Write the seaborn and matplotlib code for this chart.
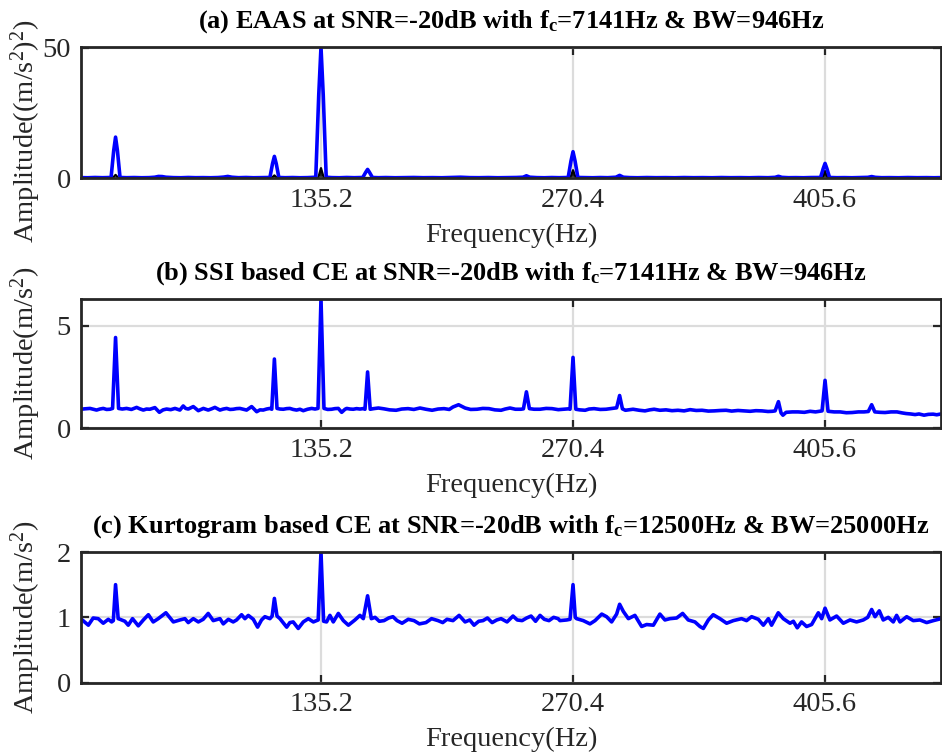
import matplotlib
matplotlib.use("Agg")
import matplotlib.pyplot as plt
import seaborn as sns

# ---------------------------------------------------------------------------
# Envelope spectra (frequency in Hz, amplitude)
# ---------------------------------------------------------------------------
TICK_FREQS = [135.2, 270.4, 405.6]
TICK_LABELS = ["135.2", "270.4", "405.6"]
FREQ_RANGE = (6.3, 467.8)

# (a) EAAS envelope spectrum
eaas_freq = [6.3, 10, 14, 18, 21, 22.6, 24.0, 25.0, 26.0, 27.4, 31, 35, 39, 43, 46, 48, 50, 52,
             56, 60, 64, 68, 72, 76, 80, 83, 85.2, 87.4, 91, 95, 99, 103, 107.8, 109.2, 110.2,
             111.2, 112.6, 116, 120, 124, 128, 132.4, 134.0, 135.2, 136.4, 138.0, 141, 145, 149,
             153, 157.6, 159.2, 160.2, 161.2, 162.8, 166, 170, 175, 180, 185, 190, 195, 200, 205,
             210, 215, 220, 225, 230, 235, 240, 243.6, 245.4, 247.2, 251, 255, 259, 263, 267.8,
             269.3, 270.4, 271.5, 273.0, 277, 281, 285, 289, 293.4, 295.4, 297.4, 301, 305, 310,
             315, 320, 325, 330, 335, 340, 345, 350, 355, 360, 365, 370, 375, 378.8, 380.6, 382.4,
             386, 390, 394, 398, 403.2, 404.6, 405.6, 406.6, 408.0, 412, 416, 420, 424, 428.6,
             430.6, 432.6, 436, 440, 445, 450, 455, 460, 464, 467.8]
eaas_amp = [0.15, 0.1, 0.2, 0.12, 0.15, 0.2, 10.5, 15.7, 10.5, 0.2, 0.12, 0.18, 0.1, 0.15, 0.3, 0.6,
            0.55, 0.3, 0.15, 0.1, 0.2, 0.12, 0.15, 0.1, 0.18, 0.35, 0.6, 0.3, 0.12, 0.2, 0.1, 0.15,
            0.2, 5.5, 8.3, 5.5, 0.2, 0.12, 0.18, 0.1, 0.15, 0.3, 32.0, 50.3, 32.0, 0.3, 0.15, 0.1,
            0.2, 0.12, 0.2, 2.2, 3.3, 2.2, 0.2, 0.12, 0.18, 0.1, 0.15, 0.2, 0.12, 0.15, 0.1, 0.18,
            0.3, 0.15, 0.12, 0.18, 0.1, 0.15, 0.2, 0.3, 0.85, 0.3, 0.15, 0.1, 0.18, 0.12, 0.2, 6.5,
            10.1, 6.5, 0.2, 0.15, 0.1, 0.18, 0.12, 0.3, 1.0, 0.3, 0.15, 0.1, 0.18, 0.12, 0.15, 0.1,
            0.18, 0.12, 0.15, 0.1, 0.18, 0.12, 0.15, 0.1, 0.18, 0.12, 0.25, 0.65, 0.25, 0.12, 0.15,
            0.1, 0.18, 0.2, 3.6, 5.6, 3.6, 0.2, 0.12, 0.15, 0.1, 0.18, 0.25, 0.55, 0.25, 0.12, 0.15,
            0.1, 0.18, 0.12, 0.15, 0.1, 0.15]

# (a) reference harmonic trace drawn underneath
ref_freq = [6.3, 23.5, 25.0, 26.5, 108.7, 110.2, 111.7, 133.7, 135.2, 136.7,
            268.9, 270.4, 271.9, 404.1, 405.6, 407.1, 467.8]
ref_amp = [0, 0, 1.2, 0, 0, 1.0, 0, 0, 3.8, 0, 0, 3.0, 0, 0, 2.4, 0, 0]

# (b) SSI based CE envelope spectrum
ssi_freq = [6.3, 8.5, 11.3, 13.0, 14.8, 16.6, 18.4, 20.2, 22.0, 23.4, 25.0, 26.6, 28.6, 30.9, 33.5,
            36.3, 38.0, 39.9, 41.6, 43.4, 46.1, 48.5, 50.5, 52.4, 54.6, 56.9, 59.5, 61.3, 62.6,
            64.0, 66.7, 69.4, 72.1, 74.7, 76.5, 78.3, 81.0, 82.8, 84.6, 86.4, 88.1, 89.9, 91.7,
            93.5, 95.3, 98.0, 100.7, 102.5, 104.2, 106.0, 107.8, 108.8, 110.2, 111.6, 113.2,
            115.0, 116.8, 118.5, 120.3, 122.1, 123.9, 125.7, 128.0, 130.2, 132.0, 133.6, 135.2,
            136.8, 138.8, 140.9, 142.7, 144.5, 146.3, 148.1, 149.0, 150.8, 152.5, 154.3, 156.1,
            157.8, 158.8, 160.2, 161.6, 163.5, 166.0, 169.0, 172.0, 175.5, 178.5, 181.9, 185.0,
            188.3, 191.5, 194.8, 198.0, 201.2, 204.0, 206.0, 209.0, 212.5, 215.5, 218.9, 222.0,
            225.3, 228.5, 231.8, 234.0, 236.6, 239.5, 242.4, 243.8, 245.4, 247.0, 249.5, 252.7,
            256.0, 259.1, 262.5, 265.6, 268.0, 268.8, 270.4, 271.9, 274.0, 276.9, 279.0, 281.7,
            285.0, 288.1, 290.5, 292.6, 293.8, 295.4, 296.9, 298.5, 302.6, 306.0, 309.0, 311.5,
            313.9, 317.0, 320.3, 323.5, 326.7, 330.0, 333.2, 336.5, 339.6, 343.0, 346.1, 349.5,
            352.5, 355.5, 358.9, 362.0, 365.4, 368.5, 371.8, 375.0, 377.3, 378.8, 380.6, 382.0,
            383.0, 384.7, 388.0, 391.1, 394.5, 397.6, 400.5, 402.4, 404.0, 405.6, 407.2, 410.5,
            413.7, 417.0, 420.1, 423.5, 426.5, 428.8, 430.6, 432.3, 435.0, 437.8, 441.0, 444.2,
            447.0, 449.1, 451.5, 453.9, 456.0, 458.7, 461.0, 463.6, 465.5, 467.8]
ssi_amp = [0.93, 0.95, 0.97, 0.93, 0.89, 0.94, 0.97, 0.92, 0.93, 0.97, 4.43, 0.97, 0.94, 0.97, 0.92,
           1.02, 0.95, 0.89, 0.94, 0.93, 1.01, 0.78, 0.90, 0.94, 0.91, 0.97, 0.89, 1.09, 0.97,
           0.94, 1.06, 0.86, 0.97, 0.89, 0.95, 1.02, 0.89, 0.94, 0.97, 0.92, 0.93, 0.96, 0.97,
           0.93, 0.89, 1.06, 0.81, 0.90, 0.89, 0.94, 0.97, 0.93, 3.38, 0.97, 0.94, 0.93, 0.96,
           0.97, 0.92, 0.89, 0.93, 0.86, 0.93, 0.97, 0.94, 0.97, 6.31, 0.97, 0.92, 0.93, 0.96,
           0.97, 0.78, 0.93, 0.97, 0.94, 0.93, 0.96, 0.94, 0.96, 0.93, 2.75, 0.93, 0.96, 0.99,
           0.95, 0.90, 0.88, 0.94, 0.96, 0.92, 0.99, 0.93, 0.88, 0.94, 0.96, 0.92, 1.04, 1.15,
           0.99, 0.92, 0.93, 0.97, 0.96, 0.90, 0.88, 0.94, 0.99, 0.93, 0.93, 0.95, 1.78, 0.96,
           0.93, 0.93, 0.97, 0.96, 0.91, 0.93, 0.95, 0.93, 3.46, 0.93, 0.90, 0.88, 0.94, 0.96,
           0.92, 0.93, 0.96, 0.99, 1.00, 1.60, 0.95, 0.88, 0.93, 0.88, 0.85, 0.90, 0.93, 0.88,
           0.90, 0.86, 0.88, 0.85, 0.91, 0.87, 0.88, 0.84, 0.85, 0.87, 0.88, 0.84, 0.87, 0.85,
           0.83, 0.86, 0.85, 0.82, 0.83, 0.85, 1.30, 0.75, 0.64, 0.78, 0.80, 0.80, 0.78, 0.83,
           0.80, 0.83, 0.85, 2.34, 0.83, 0.80, 0.80, 0.76, 0.77, 0.80, 0.80, 0.82, 1.15, 0.80,
           0.78, 0.77, 0.80, 0.80, 0.75, 0.72, 0.70, 0.67, 0.70, 0.64, 0.68, 0.69, 0.66, 0.70]

# (c) Kurtogram based CE envelope spectrum
kurt_freq = [6.3, 10.4, 13.0, 15.7, 18.4, 21.1, 22.9, 23.8, 25.0, 26.4, 27.4, 30.0, 31.8, 34.1,
             37.2, 39.9, 42.6, 45.2, 47.9, 52.0, 56.0, 59.5, 62.2, 64.0, 66.7, 69.4, 72.0, 74.7,
             77.4, 81.0, 82.8, 85.5, 88.1, 89.9, 92.6, 94.4, 96.2, 98.9, 101.2, 103.3, 105.1,
             107.8, 109.0, 110.2, 111.6, 113.2, 116.8, 118.5, 120.3, 123.0, 125.7, 128.4, 131.1,
             133.7, 135.2, 136.6, 138.2, 140.0, 141.8, 144.5, 147.2, 149.9, 153.4, 156.1, 157.9,
             160.2, 162.2, 164.2, 166.5, 169.0, 171.5, 173.8, 176.0, 178.7, 182.0, 185.1, 188.0,
             191.5, 194.5, 198.0, 200.5, 202.8, 206.0, 209.3, 212.5, 215.0, 217.3, 219.8, 222.1,
             224.5, 227.0, 229.5, 231.8, 235.0, 238.2, 240.5, 243.1, 245.5, 247.9, 250.3, 252.7,
             255.0, 257.5, 260.0, 262.4, 263.4, 267.0, 268.8, 270.4, 271.6, 272.3, 275.9, 279.5,
             282.2, 285.8, 288.4, 291.1, 293.8, 295.4, 297.4, 300.1, 303.6, 307.2, 309.9, 313.5,
             317.0, 319.7, 322.4, 326.0, 329.2, 332.2, 335.8, 338.5, 340.3, 343.0, 345.6, 349.2,
             352.8, 356.4, 360.8, 363.5, 366.2, 369.8, 372.5, 375.2, 376.9, 380.5, 383.2, 386.8,
             388.6, 390.7, 393.0, 395.7, 398.4, 402.0, 403.8, 405.6, 408.2, 411.8, 415.4, 419.0,
             422.5, 426.1, 428.5, 430.6, 432.4, 434.7, 436.8, 439.5, 442.2, 444.0, 445.8, 449.4,
             452.9, 456.5, 460.1, 463.7, 467.8]
kurt_amp = [0.98, 0.88, 0.99, 0.98, 0.91, 0.97, 0.93, 0.95, 1.50, 0.98, 0.97, 0.94, 0.88, 0.98,
            0.87, 0.96, 1.04, 0.93, 0.98, 1.07, 0.93, 0.96, 0.98, 0.92, 0.98, 0.93, 0.97, 1.06,
            0.95, 0.98, 0.90, 0.97, 0.93, 0.96, 1.04, 0.98, 1.03, 0.97, 0.85, 0.96, 1.01, 0.98,
            1.02, 1.29, 1.02, 0.98, 0.85, 0.92, 0.93, 0.83, 0.93, 0.98, 0.93, 0.96, 2.00, 0.94,
            0.93, 1.03, 0.93, 1.06, 0.95, 0.88, 0.96, 1.03, 0.98, 1.33, 0.98, 1.00, 0.94, 0.95,
            0.99, 1.01, 0.95, 0.91, 0.97, 0.95, 0.90, 0.92, 0.98, 0.95, 0.92, 0.97, 0.95, 1.03,
            0.93, 0.96, 0.88, 0.94, 0.95, 0.99, 0.92, 0.96, 0.98, 0.93, 1.02, 0.96, 0.95, 0.99,
            1.02, 0.94, 1.03, 0.97, 0.95, 1.00, 0.98, 0.95, 0.96, 0.97, 1.50, 1.00, 0.98, 0.95,
            0.90, 0.95, 1.05, 1.01, 0.93, 1.05, 1.20, 1.09, 0.98, 1.03, 0.86, 0.89, 0.88, 1.05,
            0.96, 0.98, 0.99, 1.06, 0.96, 0.93, 0.86, 0.83, 0.96, 1.04, 0.98, 0.91, 0.95, 0.98,
            0.95, 1.01, 0.97, 0.88, 0.98, 0.88, 1.07, 0.98, 0.91, 0.94, 0.84, 0.93, 0.86, 0.89,
            1.07, 0.98, 1.14, 0.96, 1.02, 0.91, 0.96, 0.93, 0.96, 1.00, 1.12, 1.01, 1.10, 0.96,
            1.00, 0.93, 1.03, 0.93, 1.01, 0.95, 0.96, 0.92, 0.95, 0.98]

PANELS = [
    dict(title=r"(a) EAAS at SNR=-20dB with f$_{\mathbf{c}}$=7141Hz & BW=946Hz",
         ylabel=r"Amplitude((m/s$^2$)$^2$)", freq=eaas_freq, amp=eaas_amp,
         yticks=[0, 50], box=(80.7, 47, 941, 178), label_y=0.36),
    dict(title=r"(b) SSI based CE at SNR=-20dB with f$_{\mathbf{c}}$=7141Hz & BW=946Hz",
         ylabel=r"Amplitude(m/s$^2$)", freq=ssi_freq, amp=ssi_amp,
         yticks=[0, 5], box=(80.7, 299, 941, 428.3), label_y=0.5),
    dict(title=r"(c) Kurtogram based CE at SNR=-20dB with f$_{\mathbf{c}}$=12500Hz & BW=25000Hz",
         ylabel=r"Amplitude(m/s$^2$)", freq=kurt_freq, amp=kurt_amp,
         yticks=[0, 1, 2], box=(80.7, 552, 941, 682.7), label_y=0.5),
]

# ---------------------------------------------------------------------------
sns.set_theme(style="ticks")
plt.rcParams["font.family"] = ["Liberation Serif", "DejaVu Serif"]
plt.rcParams["mathtext.fontset"] = "custom"
plt.rcParams["mathtext.rm"] = "Liberation Serif"
plt.rcParams["mathtext.it"] = "Liberation Serif:italic"
plt.rcParams["mathtext.bf"] = "Liberation Serif:bold"

W, H = 942, 753
fig = plt.figure(figsize=(W / 100, H / 100), dpi=100)
fig.patch.set_facecolor("white")

AX_COLOR = "#262626"
GRID_COLOR = "#dcdcdc"

for i, p in enumerate(PANELS):
    x0, y0, x1, y1 = p["box"]
    ax = fig.add_axes([x0 / W, 1 - y1 / H, (x1 - x0) / W, (y1 - y0) / H])
    ax.set_facecolor("white")

    if i == 0:
        sns.lineplot(x=ref_freq, y=ref_amp, ax=ax, color="black", linewidth=1.6,
                     estimator=None, sort=False, zorder=2)
    sns.lineplot(x=p["freq"], y=p["amp"], ax=ax, color="#0000ff", linewidth=2.6,
                 estimator=None, sort=False, zorder=3)

    ax.set_xlim(*FREQ_RANGE)
    ax.set_ylim(0, max(p["amp"]))
    ax.set_xticks(TICK_FREQS)
    ax.set_xticklabels(TICK_LABELS)
    ax.set_yticks(p["yticks"])
    ax.set_yticklabels([str(v) for v in p["yticks"]])

    ax.grid(True, color=GRID_COLOR, linewidth=1.6)
    ax.set_axisbelow(True)
    for s in ax.spines.values():
        s.set_visible(True)
        s.set_color(AX_COLOR)
        s.set_linewidth(2.0)
        s.set_zorder(4)
    ax.tick_params(direction="in", length=6, width=1.6, top=True, right=True,
                   labelsize=20.5, colors=AX_COLOR, pad=7)

    ax.set_title(p["title"], fontsize=19, fontweight="bold", color="black", pad=14)
    ax.set_xlabel("Frequency(Hz)", fontsize=20.5, color=AX_COLOR, labelpad=7)
    ax.set_ylabel(p["ylabel"], fontsize=20.5, color=AX_COLOR)
    ax.yaxis.set_label_coords(-0.044, p["label_y"])

fig.savefig("out.png", dpi=100, facecolor="white")
